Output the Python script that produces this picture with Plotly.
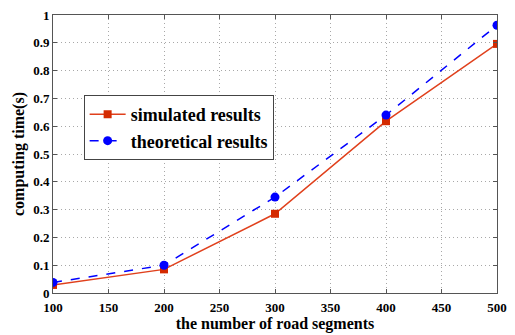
import plotly.graph_objects as go

segments = [100, 200, 300, 400, 500]
simulated = [0.029, 0.085, 0.285, 0.618, 0.896]
theoretical = [0.038, 0.100, 0.345, 0.640, 0.963]
x_ticks = [100, 150, 200, 250, 300, 350, 400, 450, 500]
y_ticks = [0, 0.1, 0.2, 0.3, 0.4, 0.5, 0.6, 0.7, 0.8, 0.9, 1]
y_tick_text = ["0", "0.1", "0.2", "0.3", "0.4", "0.5", "0.6", "0.7", "0.8", "0.9", "1"]

font_family = "Liberation Serif"

fig = go.Figure()
fig.add_trace(go.Scatter(
    x=segments, y=simulated, mode="lines+markers", name="<b>simulated results</b>",
    line=dict(color="#e0401c", width=1.5),
    marker=dict(symbol="square", size=8, color="#d42a00"),
))
fig.add_trace(go.Scatter(
    x=segments, y=theoretical, mode="lines+markers", name="<b>theoretical results</b>",
    line=dict(color="#0000ff", width=1.5, dash="dash"),
    marker=dict(symbol="circle", size=9, color="#0000ff"),
))

axis_common = dict(
    showline=True, linecolor="#555555", linewidth=1, mirror="ticks",
    ticks="inside", ticklen=4, tickcolor="#555555",
    showgrid=True, gridcolor="#a8a8a8", griddash="1px,3px", gridwidth=1,
    zeroline=False,
    tickfont=dict(family=font_family, size=13, color="black", weight="bold"),
)

fig.update_layout(
    width=515, height=335,
    margin=dict(l=53, r=15, t=8, b=40),
    paper_bgcolor="white", plot_bgcolor="white",
    font=dict(family=font_family, color="black"),
    xaxis=dict(
        range=[100, 500], tickvals=x_ticks, ticklabelstandoff=2,
        title=dict(text="<b>the number of road segments</b>", font=dict(size=16), standoff=1),
        **axis_common,
    ),
    yaxis=dict(
        range=[0, 1], tickvals=y_ticks, ticktext=y_tick_text, ticklabelstandoff=0,
        title=dict(text="<b>computing time(s)</b>", font=dict(size=16), standoff=4),
        **axis_common,
    ),
    legend=dict(
        x=0.069, y=0.712, xanchor="left", yanchor="top",
        bgcolor="white", bordercolor="#444444", borderwidth=1,
        font=dict(family=font_family, size=18, color="black", weight="bold"),
        itemwidth=36, tracegroupgap=0,
    ),
    showlegend=True,
)

fig.write_html("out.html")
